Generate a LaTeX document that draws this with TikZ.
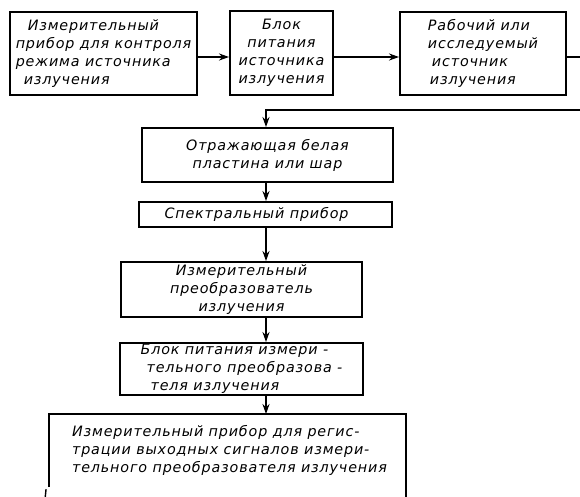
\documentclass[tikz,border=0pt]{standalone}
\usepackage{fontspec}
\setmainfont{DejaVu Sans}[LetterSpace=6]
\usetikzlibrary{arrows.meta,calc}
\tikzset{
  x=1pt,y=-1pt,
  blk/.style={draw,line width=1.9pt,inner sep=0pt,font=\fontsize{14.3}{18}\selectfont\itshape},
  conn/.style={line width=1.5pt},
  arr/.style={conn,-{Stealth[length=10pt,width=7pt]}}
}
\begin{document}
\begin{tikzpicture}
\useasboundingbox (0,0) rectangle (580,496);
\fill[white] (0,0) rectangle (580,496);
% top row
\node[blk,minimum width=187pt,minimum height=83pt,align=left] (b1) at (103.5,53.5)
  {\hspace*{12pt}Измерительный\\прибор для контроля\\режима источника\\\hspace*{8pt}излучения};
\node[blk,minimum width=103pt,minimum height=84pt,align=center] (b2) at (281.5,53)
  {Блок\\питания\\источника\\излучения};
\node[blk,minimum width=166pt,minimum height=83pt,align=left] (b3) at (483,53.5)
  {Рабочий или\\исследуемый\\\hspace*{4pt}источник\\\hspace*{2pt}излучения};
% column
\node[blk,minimum width=251pt,minimum height=54pt,align=center] (b4) at (267.5,155)
  {Отражающая белая\\пластина или шар};
\node[blk,minimum width=253pt,minimum height=25pt,align=left] (b5) at (265.5,214.5)
  {Спектральный прибор\hspace*{18pt}};
\node[blk,minimum width=241pt,minimum height=55pt,align=center] (b6) at (241.5,289.5)
  {Измерительный\\преобразователь\\излучения};
\node[blk,minimum width=243pt,minimum height=52pt,align=left] (b7) at (241.5,369)
  {Блок питания измери -\\\hspace*{6pt}тельного преобразова -\\\hspace*{10pt}теля излучения};
\node[blk,draw=none,minimum width=355pt,minimum height=70pt,align=left] (b8) at (227.5,450)
  {\hspace*{4pt}Измерительный прибор для регис-\\\hspace*{4pt}трации выходных сигналов измери-\\\hspace*{4pt}тельного преобразователя излучения};
\draw[line width=1.9pt] ($(b8.north west)+(0,73)$) -- (b8.north west) -- (b8.north east) -- ($(b8.north east)+(0,90)$);
\draw[line width=1.4pt] ($(b8.north west)+(-3,75)$) -- ($(b8.north west)+(-4,85)$);
% connectors
\coordinate (ax) at (266,0);
\coordinate (out) at (582,57);
\coordinate (back) at (582,110);
\draw[arr] (b1.east |- 0,57) -- (b2.west |- 0,57);
\draw[arr] (b2.east |- 0,57) -- (b3.west |- 0,57);
\draw[conn] (b3.east |- out) -- (out);
\draw[arr] (back) -- (ax |- back) -- (ax |- b4.north);
\draw[arr] (ax |- b4.south) -- (ax |- b5.north);
\draw[arr] (ax |- b5.south) -- (ax |- b6.north);
\draw[arr] (ax |- b6.south) -- (ax |- b7.north);
\draw[arr] (ax |- b7.south) -- (ax |- b8.north);
\end{tikzpicture}
\end{document}
